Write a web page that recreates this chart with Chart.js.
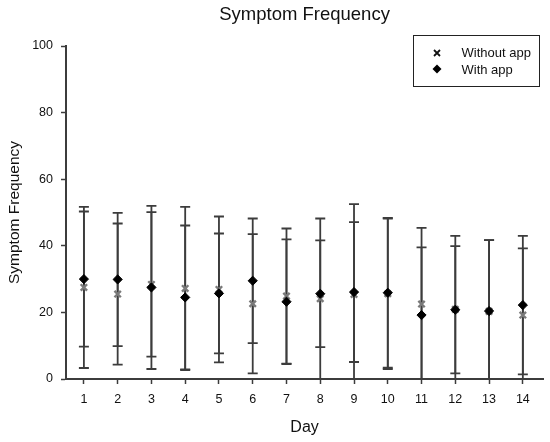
<!DOCTYPE html>
<html>
<head>
<meta charset="utf-8">
<title>Symptom Frequency</title>
<script src="https://cdn.jsdelivr.net/npm/chart.js@4.4.1/dist/chart.umd.min.js"></script>
<style>
    html, body { margin: 0; padding: 0; background: #ffffff; }
    #symptomChart { display: block; }
</style>
</head>
<body>
<canvas id="symptomChart" width="550" height="442"></canvas>
<script>
// values (mean and SD per day)
var days = [1, 2, 3, 4, 5, 6, 7, 8, 9, 10, 11, 12, 13, 14];
var withoutMean = [27.5, 25.5, 28.4, 27.2, 26.9, 22.6, 24.9, 24.1, 25.4, 25.6, 22.5, 20.9, 20.3, 19.2];
var withoutSD   = [24.2, 21.2, 21.7, 24.5, 21.9, 20.9, 20.3, 24.1, 27.1, 22.6, 22.9, 22.1, 21.4, 20.0];
var withMean    = [30.0, 29.9, 27.5, 24.5, 25.7, 29.5, 23.2, 25.6, 26.1, 25.9, 19.2, 20.8, 20.4, 22.2];
var withSD      = [20.3, 20.0, 24.5, 21.6, 18.0, 18.7, 18.7, 16.0, 21.0, 22.5, 20.3, 19.1, 21.3, 20.8];
var yTicks = [0, 20, 40, 60, 80, 100];

var FONT = "'Liberation Sans', Arial, sans-serif";
var INK = '#3c3c3c';

function toPoints(means) {
    var points = [];
    for (var i = 0; i < days.length; i++) {
        points.push({ x: days[i], y: means[i] });
    }
    return points;
}

// vertical bars with caps, mean +/- SD, cut at the x axis
var errorBarPlugin = {
    id: 'errorBars',
    beforeDatasetsDraw: function(chart) {
        var ctx = chart.ctx;
        var xs = chart.scales.x;
        var ys = chart.scales.y;
        ctx.save();
        ctx.strokeStyle = INK;
        ctx.lineWidth = 1.8;
        for (var ds of chart.data.datasets) {
            for (var i = 0; i < ds.data.length; i++) {
                var m = ds.data[i].y;
                var sd = ds.errorBars[i];
                var px = xs.getPixelForValue(ds.data[i].x);
                var yHi = ys.getPixelForValue(m + sd);
                var yLo = ys.getPixelForValue(Math.max(m - sd, 0));
                ctx.beginPath();
                ctx.moveTo(px, yHi);
                ctx.lineTo(px, yLo);
                ctx.moveTo(px - 5, yHi);
                ctx.lineTo(px + 5, yHi);
                if (m - sd >= 0) {
                    ctx.moveTo(px - 5, yLo);
                    ctx.lineTo(px + 5, yLo);
                }
                ctx.stroke();
            }
        }
        ctx.restore();
    }
};

// title over the plot area and a boxed legend
var framePlugin = {
    id: 'frame',
    afterDraw: function(chart) {
        var ctx = chart.ctx;
        var area = chart.chartArea;
        ctx.save();
        ctx.fillStyle = '#111111';
        ctx.font = '18.5px ' + FONT;
        ctx.textAlign = 'center';
        ctx.textBaseline = 'alphabetic';
        ctx.fillText('Symptom Frequency', (area.left + area.right) / 2, 20);

        ctx.strokeStyle = '#222222';
        ctx.lineWidth = 1;
        ctx.strokeRect(413.5, 35.5, 126, 51);

        // cross marker
        ctx.strokeStyle = '#111111';
        ctx.lineWidth = 1.8;
        ctx.beginPath();
        ctx.moveTo(434, 50);
        ctx.lineTo(440, 56);
        ctx.moveTo(440, 50);
        ctx.lineTo(434, 56);
        ctx.stroke();

        // diamond marker
        ctx.fillStyle = '#000000';
        ctx.beginPath();
        ctx.moveTo(437, 64.5);
        ctx.lineTo(441.5, 69);
        ctx.lineTo(437, 73.5);
        ctx.lineTo(432.5, 69);
        ctx.closePath();
        ctx.fill();

        ctx.fillStyle = '#111111';
        ctx.font = '13px ' + FONT;
        ctx.textAlign = 'left';
        ctx.fillText(chart.data.datasets[0].label, 461.5, 57);
        ctx.fillText(chart.data.datasets[1].label, 461.5, 73.5);
        ctx.restore();
    }
};

function drawChart() {
    var ctx = document.getElementById('symptomChart').getContext('2d');

    var symptomChart = new Chart(ctx, {
        type: 'scatter',
        data: {
            datasets: [{
                label: 'Without app',
                data: toPoints(withoutMean),
                errorBars: withoutSD,
                pointStyle: 'crossRot',
                pointRadius: 4.5,
                borderColor: '#7a7a7a',
                borderWidth: 2.4,
                backgroundColor: 'rgba(0,0,0,0)',
                order: 1
            }, {
                label: 'With app',
                data: toPoints(withMean),
                errorBars: withSD,
                pointStyle: 'rectRot',
                pointRadius: 4.6,
                borderColor: '#000000',
                borderWidth: 1,
                backgroundColor: '#000000',
                order: 0
            }]
        },
        options: {
            responsive: false,
            animation: false,
            layout: {
                padding: { top: 46, right: 5, left: 0, bottom: 0 }
            },
            plugins: {
                legend: { display: false },
                title: { display: false },
                tooltip: { enabled: false }
            },
            scales: {
                x: {
                    type: 'linear',
                    min: 0.47,
                    max: 14.6,
                    afterBuildTicks: function(scale) {
                        scale.ticks = days.map(function(d) { return { value: d }; });
                    },
                    afterFit: function(scale) {
                        scale.height = 63;
                    },
                    grid: {
                        drawOnChartArea: false,
                        drawTicks: true,
                        tickLength: 5,
                        tickColor: INK,
                        tickWidth: 1.5
                    },
                    border: { color: INK, width: 2 },
                    ticks: {
                        color: '#111111',
                        font: { family: FONT, size: 12.5 },
                        padding: 8,
                        autoSkip: false,
                        maxRotation: 0
                    },
                    title: {
                        display: true,
                        text: 'Day',
                        color: '#111111',
                        font: { family: FONT, size: 16 },
                        padding: { top: 0, bottom: 5 }
                    }
                },
                y: {
                    min: 0,
                    max: 100,
                    afterBuildTicks: function(scale) {
                        scale.ticks = yTicks.map(function(v) { return { value: v }; });
                    },
                    afterFit: function(scale) {
                        scale.width = 66;
                    },
                    grid: {
                        drawOnChartArea: false,
                        drawTicks: true,
                        tickLength: 5,
                        tickColor: INK,
                        tickWidth: 1.5
                    },
                    border: { color: INK, width: 2 },
                    ticks: {
                        color: '#111111',
                        font: { family: FONT, size: 12.5 },
                        padding: 8
                    },
                    title: {
                        display: true,
                        text: 'Symptom Frequency',
                        color: '#111111',
                        font: { family: FONT, size: 15.5 },
                        padding: { top: 5.5, bottom: 0 }
                    }
                }
            }
        },
        plugins: [errorBarPlugin, framePlugin]
    });
}

drawChart();
</script>
</body>
</html>
